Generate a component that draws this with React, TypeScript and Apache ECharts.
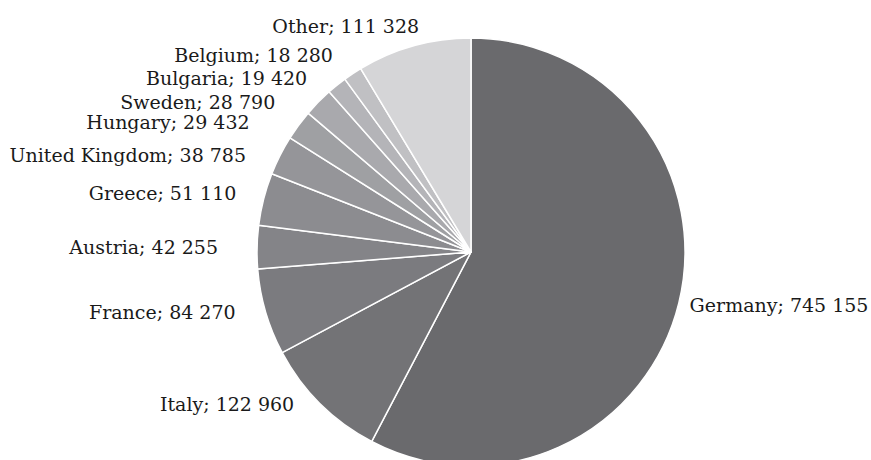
import React, { useEffect, useRef } from "react";
import * as echarts from "echarts";

const countries = [
  "Germany",
  "Italy",
  "France",
  "Austria",
  "Greece",
  "United Kingdom",
  "Hungary",
  "Sweden",
  "Bulgaria",
  "Belgium",
  "Other",
];
const values = [745155, 122960, 84270, 42255, 51110, 38785, 29432, 28790, 19420, 18280, 111328];
const colors = [
  "#6a6a6d",
  "#737376",
  "#7b7b7f",
  "#848488",
  "#8c8c90",
  "#959599",
  "#9fa0a3",
  "#a9a9ad",
  "#b4b4b8",
  "#c0c0c3",
  "#d5d5d7",
];
// hidden label-line lengths (radial, horizontal) that place each label like the original
const leaderRadial = [6, 0, 0, 0, 23, 0, 5, 0, 9, 23, 21];
const leaderHorizontal = [0, 21, 25, 34, 0, 29, 40, 38, 19, 2, -16];

const fmt = (v: number) => String(v).replace(/\B(?=(\d{3})+(?!\d))/g, " ");

export default function App() {
  const ref = useRef<HTMLDivElement>(null);
  useEffect(() => {
    document.body.style.margin = "0";
    const chart = echarts.init(ref.current!, undefined, { renderer: "svg" });
    chart.setOption({
      animation: false,
      backgroundColor: "#ffffff",
      series: [
        {
          type: "pie",
          center: [471, 252],
          radius: 214,
          startAngle: 90,
          clockwise: true,
          avoidLabelOverlap: false,
          data: countries.map((c, i) => ({
            name: c,
            value: values[i],
            itemStyle: { color: colors[i] },
            labelLine: { show: false, length: leaderRadial[i], length2: leaderHorizontal[i] },
          })),
          itemStyle: { borderColor: "#ffffff", borderWidth: 1.5 },
          label: {
            show: true,
            position: "outside",
            formatter: (p: any) => `${p.name}; ${fmt(p.value)}`,
            fontFamily: "DejaVu Serif",
            fontSize: 19,
            color: "#1a1a1a",
            overflow: "none",
          },
          labelLine: { show: false },
          emphasis: { disabled: true },
        },
      ],
    });
    return () => chart.dispose();
  }, []);
  return <div ref={ref} style={{ width: 871, height: 460 }} />;
}
